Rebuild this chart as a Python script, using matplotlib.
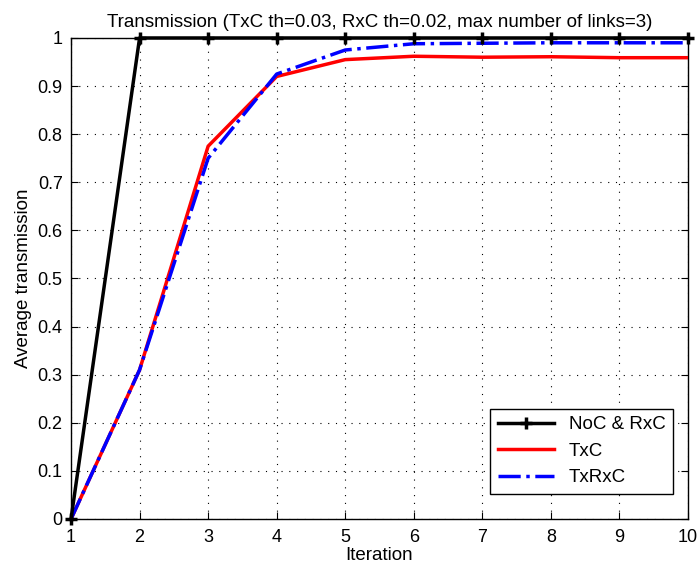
import matplotlib
matplotlib.use("Agg")
import matplotlib.pyplot as plt

# ── Dados ──────────────────────────────────────────────────────────────────────
iteracoes = [1, 2, 3, 4, 5, 6, 7, 8, 9, 10]
noc_rxc   = [0, 1, 1, 1, 1, 1, 1, 1, 1, 1]
txc       = [0, 0.31, 0.775, 0.92, 0.955, 0.962, 0.960, 0.961, 0.959, 0.959]
txrxc     = [0, 0.31, 0.75, 0.925, 0.975, 0.988, 0.989, 0.990, 0.990, 0.990]

y_ticks = [0, 0.1, 0.2, 0.3, 0.4, 0.5, 0.6, 0.7, 0.8, 0.9, 1]
y_labels = ["0", "0.1", "0.2", "0.3", "0.4", "0.5", "0.6", "0.7", "0.8", "0.9", "1"]

plt.rcParams["font.family"] = ["Liberation Sans", "DejaVu Sans"]

fig = plt.figure(figsize=(6.97, 5.71), dpi=100)
ax = fig.add_axes([0.1019, 0.0911, 0.8852, 0.8424])

ax.plot(iteracoes, noc_rxc, color="black", linewidth=2.5, marker="+",
        markersize=9, markeredgewidth=2.5, label="NoC & RxC", zorder=4,
        clip_on=False)
ax.plot(iteracoes, txc, color="red", linewidth=2.5, label="TxC", zorder=3)
ax.plot(iteracoes, txrxc, color="blue", linewidth=2.5, linestyle="-.",
        label="TxRxC", zorder=3)

ax.set_xlim(1, 10)
ax.set_ylim(0, 1)
ax.set_xticks(iteracoes)
ax.set_yticks(y_ticks)
ax.set_yticklabels(y_labels)
ax.tick_params(direction="in", top=True, right=True, labelsize=13, length=5)
ax.tick_params(axis="x", pad=7)
ax.tick_params(axis="y", pad=6)
# grade pontilhada, estilo MATLAB
ax.grid(True, color="black", linestyle=(0, (1, 6)), linewidth=0.8)
for s in ax.spines.values():
    s.set_linewidth(1.0)

ax.set_xlabel("Iteration", fontsize=13.5, labelpad=1)
ax.set_ylabel("Average transmission", fontsize=13.5, labelpad=4)
ax.set_title("Transmission (TxC th=0.03, RxC th=0.02, max number of links=3)",
             fontsize=13.5, pad=8)

leg = ax.legend(loc="lower right", bbox_to_anchor=(0.9757, 0.052),
                fontsize=13.5, fancybox=False, framealpha=1,
                edgecolor="black", borderaxespad=0, handlelength=3)
leg.get_frame().set_linewidth(1.0)

plt.savefig("out.png", dpi=100)
plt.close()
